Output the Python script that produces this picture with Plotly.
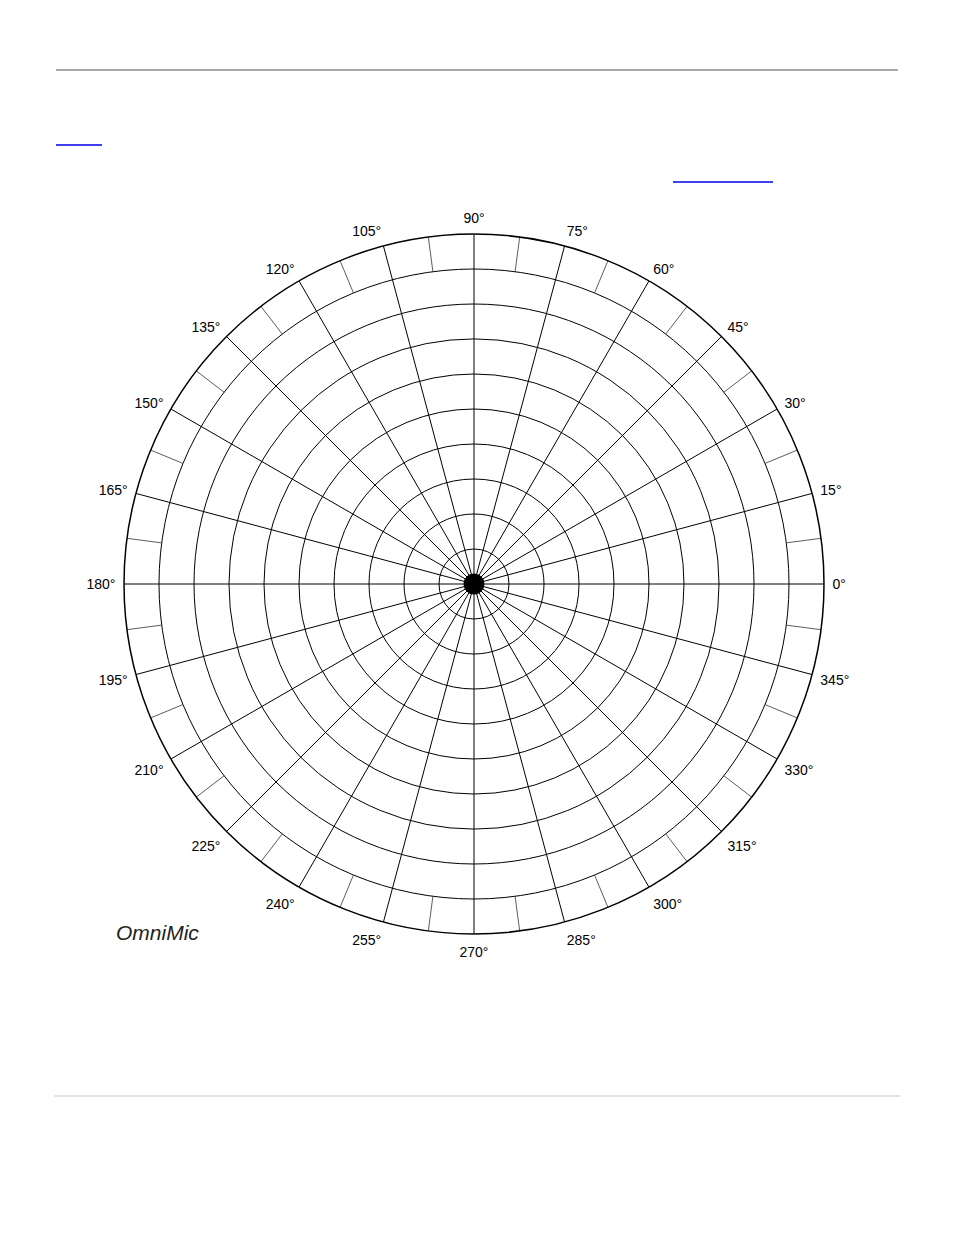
import plotly.graph_objects as go

# Polar grid template (OmniMic) - blank chart, only grid, labels and centre dot
W, H = 954, 1235
OFF = 8  # the page body adds an 8px margin around the figure

ring_radii = [1, 2, 3, 4, 5, 6, 7, 8, 9, 10]
label_angles = [0, 15, 30, 45, 60, 75, 90, 105, 120, 135, 150, 165,
                180, 195, 210, 225, 240, 255, 270, 285, 300, 315, 330, 345]
label_text = ["0°", "15°", "30°", "45°", "60°", "75°", "90°", "105°", "120°", "135°", "150°", "165°",
              "180°", "195°", "210°", "225°", "240°", "255°", "270°", "285°", "300°", "315°", "330°", "345°"]
# short dividers in the outermost ring, halfway between the labelled spokes
minor_angles = [7.5, 22.5, 37.5, 52.5, 67.5, 82.5, 97.5, 112.5, 127.5, 142.5, 157.5, 172.5,
                187.5, 202.5, 217.5, 232.5, 247.5, 262.5, 277.5, 292.5, 307.5, 322.5, 337.5, 352.5]
minor_r_inner = 9
minor_r_outer = 10

# pixel geometry of the plot circle (screen coords)
cx, cy, rad = 474 - OFF, 584 - OFF, 350


def px(x):
    return (x - OFF) / W


def py(y):
    return 1 - (y - OFF) / H


fig = go.Figure()

r_vals, t_vals = [], []
for a in minor_angles:
    r_vals += [minor_r_inner, minor_r_outer, None]
    t_vals += [a, a, None]
fig.add_trace(go.Scatterpolar(r=r_vals, theta=t_vals, mode="lines",
                              line=dict(color="#333333", width=0.8),
                              hoverinfo="skip", showlegend=False))

# centre dot
fig.add_trace(go.Scatterpolar(r=[0], theta=[0], mode="markers",
                              marker=dict(color="black", size=21),
                              hoverinfo="skip", showlegend=False))

fig.update_layout(
    width=W, height=H, autosize=False,
    margin=dict(l=0, r=0, t=0, b=0),
    paper_bgcolor="white",
    font=dict(family="Liberation Sans, Arial, sans-serif", size=14, color="black"),
    polar=dict(
        domain=dict(x=[(cx - rad) / W, (cx + rad) / W],
                    y=[1 - (cy + rad) / H, 1 - (cy - rad) / H]),
        bgcolor="white",
        radialaxis=dict(range=[0, 10], tickvals=ring_radii, showticklabels=False,
                        ticks="", showline=False, gridcolor="black", gridwidth=1.2),
        angularaxis=dict(rotation=0, direction="counterclockwise",
                         tickvals=label_angles, ticktext=label_text,
                         ticks="outside", ticklen=5, tickcolor="white",
                         showline=True, linecolor="black", linewidth=1.5,
                         gridcolor="black", gridwidth=1.2,
                         tickfont=dict(size=14)),
    ),
)

# page decorations around the chart
fig.add_shape(type="line", xref="paper", yref="paper",
              x0=px(56), x1=px(898), y0=py(70), y1=py(70),
              line=dict(color="#a8a8a8", width=2))
fig.add_shape(type="line", xref="paper", yref="paper",
              x0=px(56), x1=px(102), y0=py(145), y1=py(145),
              line=dict(color="#0000ee", width=1.5))
fig.add_shape(type="line", xref="paper", yref="paper",
              x0=px(673), x1=px(773), y0=py(182), y1=py(182),
              line=dict(color="#0000ee", width=1.5))
fig.add_shape(type="line", xref="paper", yref="paper",
              x0=px(54), x1=px(900), y0=py(1096), y1=py(1096),
              line=dict(color="#d8d8d8", width=1.5))

fig.add_annotation(text="<i>OmniMic</i>", xref="paper", yref="paper",
                   x=px(157), y=py(932), xanchor="center", yanchor="middle",
                   showarrow=False, font=dict(size=21, color="#222222"))

fig.write_html("out.html")
